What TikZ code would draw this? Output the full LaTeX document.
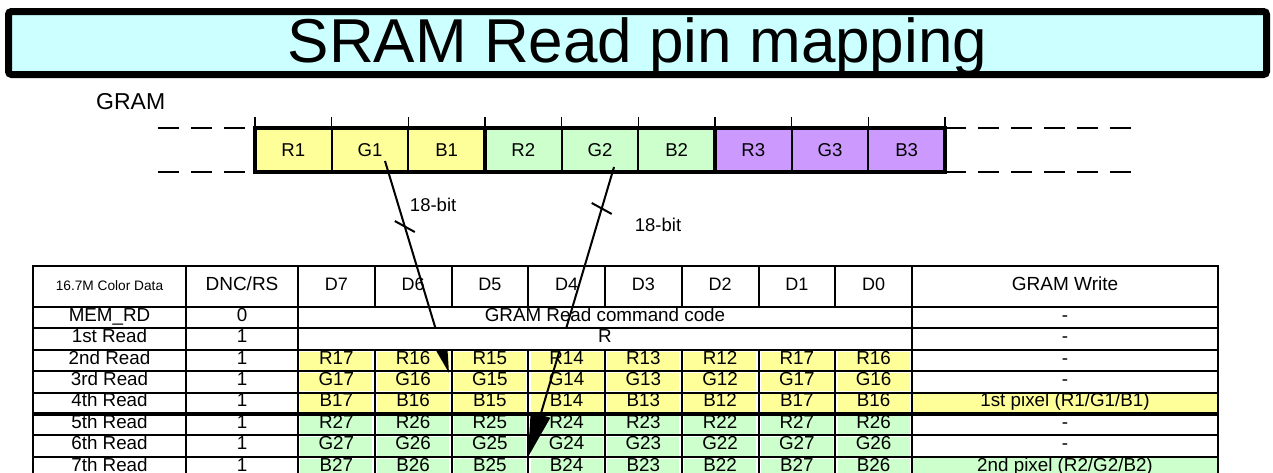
\documentclass[tikz,border=0pt]{standalone}
\usepackage{fontspec}
\setmainfont{Liberation Sans}
\usetikzlibrary{arrows.meta}
\definecolor{titlefill}{HTML}{CCFFFF}
\definecolor{pixone}{HTML}{FFFF99}
\definecolor{pixtwo}{HTML}{CCFFCC}
\definecolor{pixthree}{HTML}{CC99FF}

\tikzset{
  gramcell/.style={draw,line width=2.2pt,outer sep=0pt,inner sep=0pt,
    minimum width=76.67pt,minimum height=44pt,
    font=\fontsize{18.6pt}{18.6pt}\selectfont},
  tcell/.style={draw,line width=2pt,outer sep=0pt,inner sep=0pt,
    minimum height=21.4pt,text height=0.72em,text depth=0pt,
    font=\fontsize{18.8pt}{18.8pt}\selectfont},
  hcell/.style={tcell,minimum height=41pt},
  dcol/.style={minimum width=76.75pt},
  bus/.style={line width=2pt},
  buslabel/.style={anchor=west,inner sep=0pt,font=\fontsize{18.5pt}{18.5pt}\selectfont},
  gapline/.style={line width=2pt,dash pattern=on 21pt off 12pt},
}

\begin{document}
\begin{tikzpicture}[x=1pt,y=-1pt]
  \useasboundingbox (0,0) rectangle (1273,472);
  \clip (0,0) rectangle (1273,472);
  \def\dx{76.75}
  \def\rh{21.4}
  % title bar
  \node[draw,line width=7pt,rounded corners=3pt,fill=titlefill,inner sep=0pt,
    minimum width=1258pt,minimum height=63pt,text height=44pt,text depth=6pt,
    font=\fontsize{62pt}{62pt}\selectfont] (title) at (637.5,43) {SRAM Read pin mapping};
  % GRAM word strip
  \node[anchor=base west,inner sep=0pt,font=\fontsize{23pt}{23pt}\selectfont] (gram) at (96,109) {GRAM};
  \foreach \t/\c/\n [count=\k from 0] in {R1/pixone/r1,G1/pixone/g1,B1/pixone/b1,
      R2/pixtwo/r2,G2/pixtwo/g2,B2/pixtwo/b2,R3/pixthree/r3,G3/pixthree/g3,B3/pixthree/b3}
    \node[gramcell,fill=\c] (\n) at ({255+76.67*(\k+0.5)},150) {\t};
  \draw[line width=3.5pt] (r1.north west) rectangle (b3.south east);
  \draw[line width=3.5pt] (r2.north west) -- (r2.south west) (r3.north west) -- (r3.south west);
  \foreach \n in {r1,g1,b1,r2,g2,b2,r3,g3,b3}
    \draw[line width=1.5pt] (\n.north west) -- ++(0,-11);
  \draw[line width=1.5pt] (b3.north east) -- ++(0,-11);
  % words before and after
  \draw[gapline] ([xshift=-97pt]r1.north west) -- (r1.north west);
  \draw[gapline] ([xshift=-97pt]r1.south west) -- (r1.south west);
  \draw[gapline] (b3.north east) -- ++(195,0);
  \draw[gapline] (b3.south east) -- ++(195,0);

  % table header
  \node[hcell,minimum width=153pt,font=\fontsize{13.7pt}{13.7pt}\selectfont] (hdata) at (109.5,286.5) {16.7M Color Data};
  \node[hcell,minimum width=112pt,font=\fontsize{19pt}{19pt}\selectfont] (hdnc) at (242,286.5) {DNC/RS};
  \foreach \b [count=\k from 0] in {7,...,0}
    \node[hcell,dcol,font=\fontsize{18pt}{18pt}\selectfont] (hd\b) at ({298+\dx*(\k+0.5)},286.5) {D\b};
  \node[hcell,minimum width=306pt,font=\fontsize{19pt}{19pt}\selectfont] (hwrite) at (1065,286.5) {GRAM Write};
  % first two columns
  \foreach \lab/\v [count=\i from 0] in {MEM\_RD/0,1st Read/1,2nd Read/1,3rd Read/1,
      4th Read/1,5th Read/1,6th Read/1,7th Read/1}
  {
    \node[tcell,minimum width=153pt] (lab\i) at (109.5,{307+\rh*(\i+0.5)}) {\lab};
    \node[tcell,minimum width=112pt] (dnc\i) at (242,{307+\rh*(\i+0.5)}) {\v};
  }
  \node[tcell,minimum width=614pt] (cmd0) at (605,{307+\rh*0.5}) {GRAM Read command code};
  % pixel data D7..D0, fill kept off the grid lines
  \foreach \L/\p/\c [count=\i from 2] in {R/1/pixone,G/1/pixone,B/1/pixone,
      R/2/pixtwo,G/2/pixtwo,B/2/pixtwo}
    \foreach \v [count=\k from 0] in {7,6,5,4,3,2,7,6}
    {
      \fill[\c] ({298+\dx*\k+2.3},{307+\rh*\i+1.8}) rectangle ({298+\dx*(\k+1)-2.3},{307+\rh*(\i+1)-1.3});
      \node[tcell,dcol] (p\i-\k) at ({298+\dx*(\k+0.5)},{307+\rh*(\i+0.5)}) {\L\p\v};
    }
  % GRAM Write column
  \foreach \w/\c [count=\i from 0] in {-/white,-/white,-/white,-/white,
      {1st pixel (R1/G1/B1)}/pixone,-/white,-/white,{2nd pixel (R2/G2/B2)}/pixtwo}
    \node[tcell,minimum width=306pt,fill=\c] (wr\i) at (1065,{307+\rh*(\i+0.5)}) {\w};
  \draw[line width=3.5pt] (lab4.south west) -- (wr4.south east);

  % 18-bit buses
  \coordinate (srcA) at ([shift={(15,11)}]g1.center);
  \coordinate (tipA) at (449,373);
  \coordinate (srcB) at ([shift={(14,17)}]g2.center);
  \coordinate (tipB) at (528,457);
  \draw[bus,-{Triangle[length=44pt,width=20pt]}] (srcA) -- coordinate[pos=0.309] (tickA) (tipA);
  \draw[bus,-{Triangle[length=44pt,width=20pt]}] (srcB) -- coordinate[pos=0.143] (tickB) (tipB);
  \draw[bus] ([shift={(-10,-5.5)}]tickA) -- ([shift={(10,5.5)}]tickA);
  \draw[bus] ([shift={(-10,-5.5)}]tickB) -- ([shift={(10,5.5)}]tickB);
  \node[buslabel] (bitsA) at ([shift={(5,-21.5)}]tickA) {18-bit};
  \node[buslabel] (bitsB) at ([shift={(33,16.5)}]tickB) {18-bit};
  % R row lies over the buses
  \node[tcell,minimum width=614pt,fill=white] (cmd1) at (605,{307+\rh*1.5}) {R};
\end{tikzpicture}
\end{document}
